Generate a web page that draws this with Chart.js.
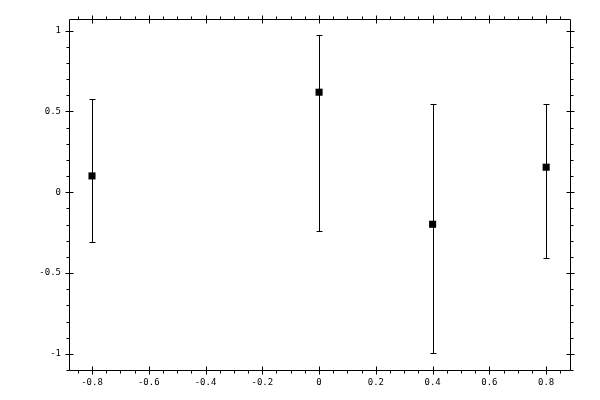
<!DOCTYPE html>
<html><head><meta charset="utf-8">
<script src="https://cdn.jsdelivr.net/npm/chart.js@4"></script>
<style>html,body{margin:0;padding:0;background:#fff}</style>
</head><body>
<canvas id="c" width="600" height="400"></canvas>
<script>
// ---- data ----
const xValues = [-0.8, 0, 0.4, 0.8];
const yValues = [0.101, 0.619, -0.198, 0.155];
const yLow    = [-0.306, -0.241, -0.997, -0.409];
const yHigh   = [0.576, 0.972, 0.549, 0.549];
const xTickLabels = [-0.8, -0.6, -0.4, -0.2, 0, 0.2, 0.4, 0.6, 0.8];
const yTickLabels = [-1, -0.5, 0, 0.5, 1];
const xMinorStep = 0.05;
const yMinorStep = 0.1;
const xRange = [-0.881, 0.884];
const yRange = [-1.106, 1.072];

const FONT = {family: '"DejaVu Sans Mono", monospace', size: 9};
const fmt = v => String(Number(v.toFixed(3)));

function minorValues(min, max, step) {
  const out = [];
  for (let i = Math.ceil(min / step - 1e-9); i <= Math.floor(max / step + 1e-9); i++) out.push(i * step);
  return out;
}
function isMajor(v, majors) { return majors.some(m => Math.abs(m - v) < 1e-6); }

const framePlugin = {
  id: 'frameTicks',
  beforeDatasetsDraw(chart) {
    const ctx = chart.ctx, xs = chart.scales.x, ys = chart.scales.y;
    ctx.save();
    ctx.strokeStyle = '#000';
    ctx.lineWidth = 1;
    for (let i = 0; i < xValues.length; i++) {
      const px = Math.round(xs.getPixelForValue(xValues[i])) + 0.5;
      const ph = Math.round(ys.getPixelForValue(yHigh[i])) + 0.5;
      const pl = Math.round(ys.getPixelForValue(yLow[i])) + 0.5;
      ctx.beginPath();
      ctx.moveTo(px, ph); ctx.lineTo(px, pl);
      ctx.moveTo(px - 3, ph); ctx.lineTo(px + 3, ph);
      ctx.moveTo(px - 3, pl); ctx.lineTo(px + 3, pl);
      ctx.stroke();
    }
    ctx.restore();
  },
  afterDraw(chart) {
    const ctx = chart.ctx, a = chart.chartArea, xs = chart.scales.x, ys = chart.scales.y;
    const L = a.left + 0.5, R = a.right + 0.5, T = a.top + 0.5, B = a.bottom - 0.5;
    ctx.save();
    ctx.strokeStyle = '#000';
    ctx.lineWidth = 1;
    ctx.beginPath();
    ctx.rect(L, T, R - L, B - T);
    for (const v of minorValues(xRange[0], xRange[1], xMinorStep)) {
      const px = Math.round(xs.getPixelForValue(v)) + 0.5;
      if (isMajor(v, xTickLabels)) {
        ctx.moveTo(px, B - 4); ctx.lineTo(px, B + 4);
        ctx.moveTo(px, T - 4); ctx.lineTo(px, T + 4);
      } else {
        ctx.moveTo(px, B); ctx.lineTo(px, B + 3);
        ctx.moveTo(px, T); ctx.lineTo(px, T - 3);
      }
    }
    for (const v of minorValues(yRange[0], yRange[1], yMinorStep)) {
      const py = Math.round(ys.getPixelForValue(v)) + 0.5;
      if (isMajor(v, yTickLabels)) {
        ctx.moveTo(L - 4, py); ctx.lineTo(L + 4, py);
        ctx.moveTo(R - 4, py); ctx.lineTo(R + 4, py);
      } else {
        ctx.moveTo(L, py); ctx.lineTo(L - 3, py);
        ctx.moveTo(R, py); ctx.lineTo(R + 3, py);
      }
    }
    ctx.stroke();
    ctx.restore();
  }
};

new Chart(document.getElementById('c'), {
  type: 'scatter',
  data: {
    datasets: [{
      data: xValues.map((x, i) => ({x: x, y: yValues[i]})),
      pointStyle: 'rect',
      pointRadius: 5,
      pointHoverRadius: 5,
      backgroundColor: '#000',
      borderColor: '#000',
      borderWidth: 0
    }]
  },
  options: {
    responsive: false,
    animation: false,
    devicePixelRatio: 1,
    layout: {padding: {top: 19, right: 30, left: 0, bottom: 0}},
    plugins: {legend: {display: false}, tooltip: {enabled: false}},
    scales: {
      x: {
        type: 'linear', position: 'bottom',
        min: xRange[0], max: xRange[1],
        grid: {display: false}, border: {display: false},
        afterBuildTicks: s => { s.ticks = xTickLabels.map(v => ({value: v})); },
        afterFit: s => { s.height = 29; },
        ticks: {color: '#000', font: FONT, padding: -2, maxRotation: 0, autoSkip: false, callback: v => fmt(v)}
      },
      y: {
        type: 'linear', position: 'left',
        min: yRange[0], max: yRange[1],
        grid: {display: false}, border: {display: false},
        afterBuildTicks: s => { s.ticks = yTickLabels.map(v => ({value: v})); },
        afterFit: s => { s.width = 69; },
        ticks: {color: '#000', font: FONT, padding: 0, autoSkip: false, callback: v => fmt(v)}
      }
    }
  },
  plugins: [framePlugin]
});
</script>
</body></html>
